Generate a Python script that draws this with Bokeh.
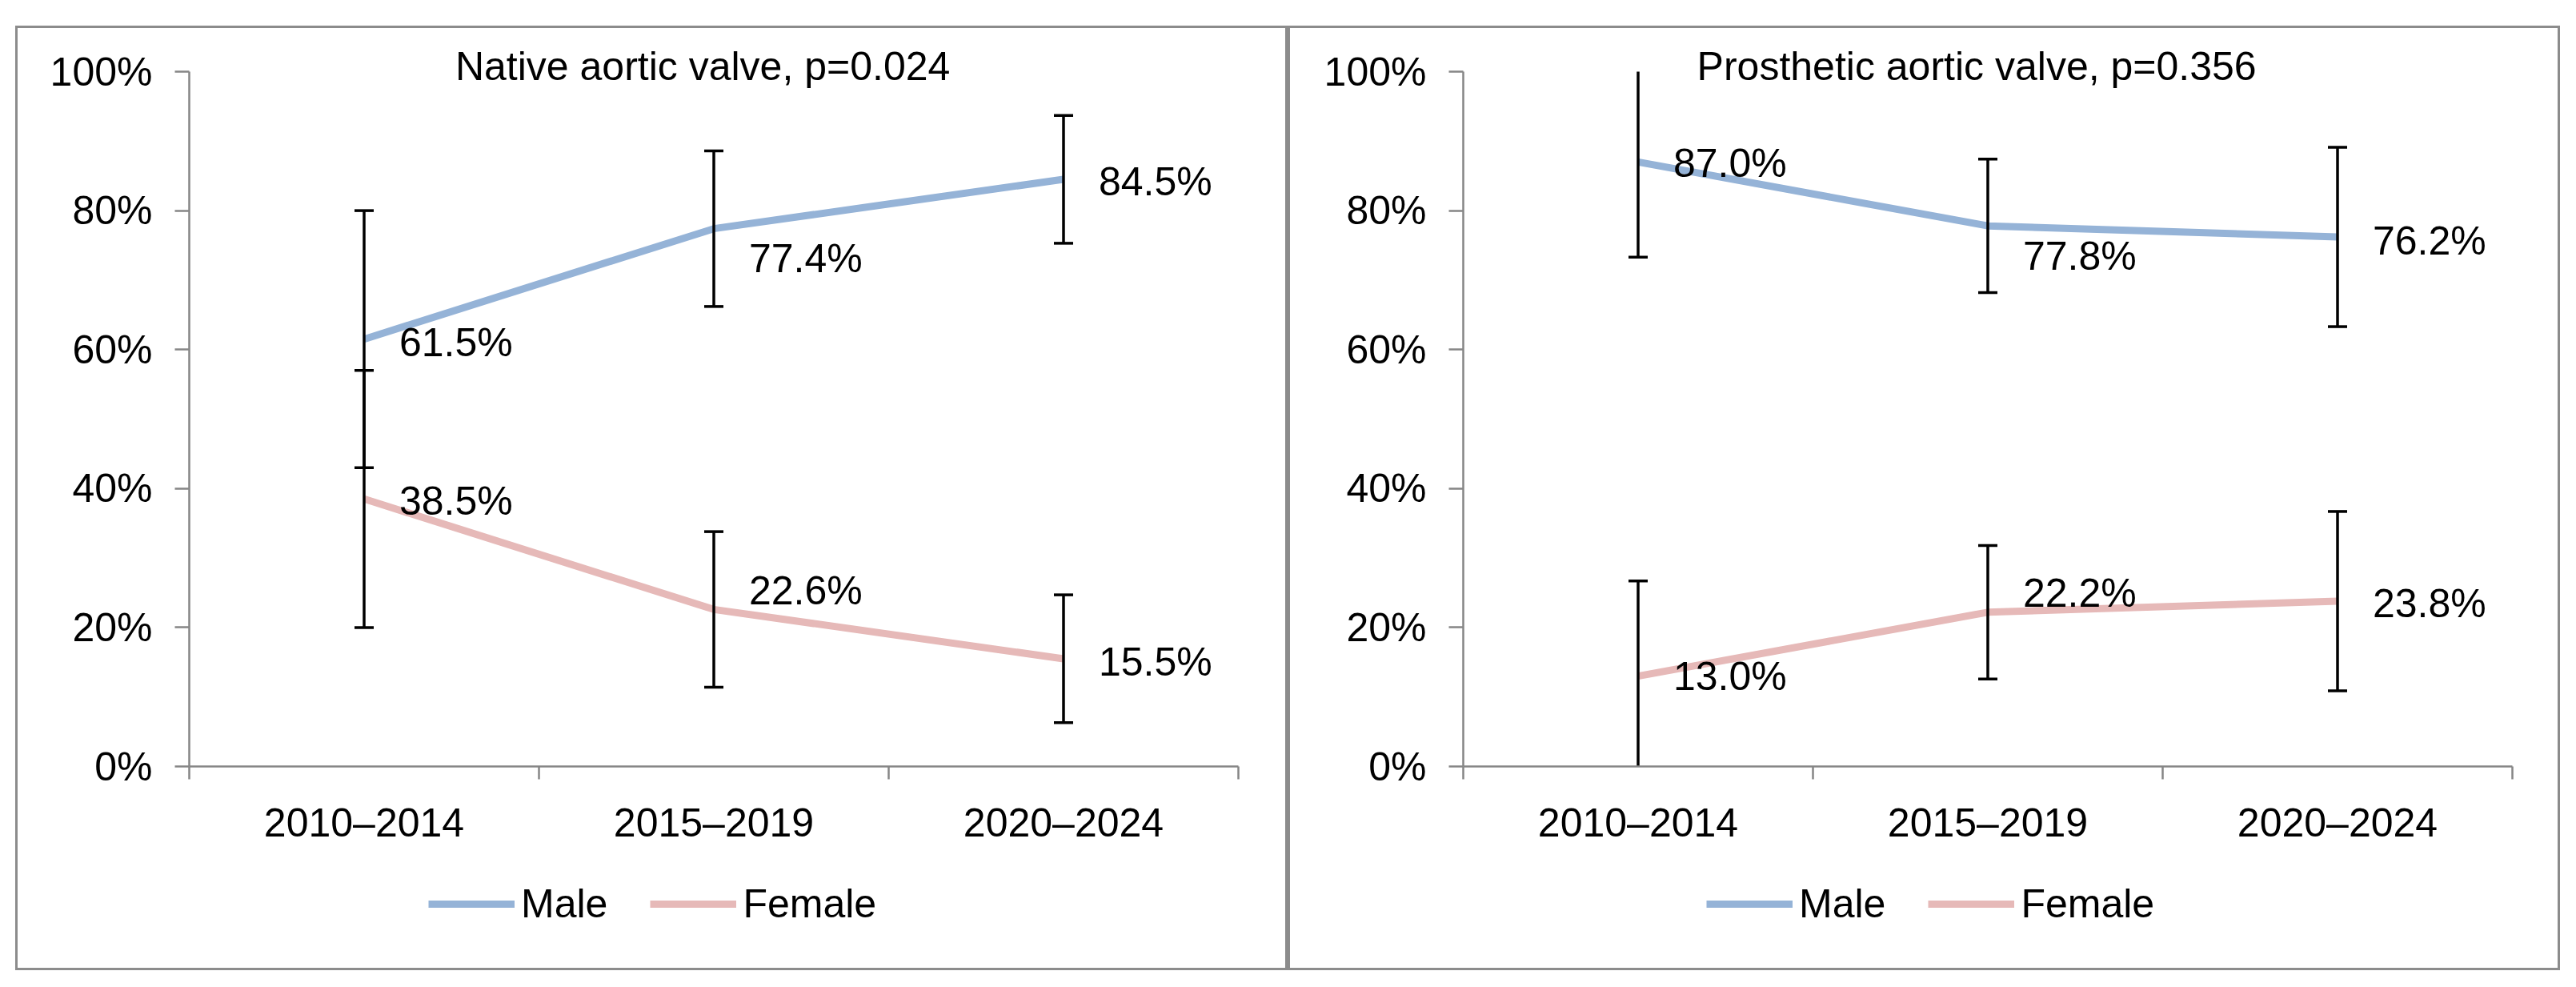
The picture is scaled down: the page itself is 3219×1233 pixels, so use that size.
from bokeh.plotting import figure
from bokeh.models import (Range1d, FixedTicker, Legend, LegendItem, Spacer)
from bokeh.layouts import row, column
from bokeh.core.properties import value
from bokeh.embed import file_html
from bokeh.resources import INLINE

# ---------------- data ----------------
categories = ["2010\u20132014", "2015\u20132019", "2020\u20132024"]

native_title = "Native  aortic valve,  p=0.024"
native_male = [61.5, 77.4, 84.5]
native_female = [38.5, 22.6, 15.5]
native_err = [18.5, 11.2, 9.2]          # half-width of error bars (%)

prosth_title = "Prosthetic  aortic valve,  p=0.356"
prosth_male = [87.0, 77.8, 76.2]
prosth_female = [13.0, 22.2, 23.8]
prosth_err = [13.7, 9.6, 12.9]

series_names = ["Male", "Female"]
y_ticks = [0, 20, 40, 60, 80, 100]

# ---------------- style ----------------
MALE_C = "#95B3D7"
FEMALE_C = "#E6B9B8"
AXIS_C = "#868686"
BORDER_C = "#8c8c8c"
FONT = "Liberation Sans"
FONT_V = value(FONT)
FS = "50px"
PANEL_W = 1590
PANEL_H = 1180
PLOT_H = 1065
TOP_CSS = [":host { box-shadow: inset 3px 0 0 0 %s, inset -3px 0 0 0 %s, "
           "inset 0 3px 0 0 %s; }" % (BORDER_C, BORDER_C, BORDER_C)]
BOT_CSS = [":host { box-shadow: inset 3px 0 0 0 %s, inset -3px 0 0 0 %s, "
           "inset 0 -3px 0 0 %s; }" % (BORDER_C, BORDER_C, BORDER_C)]

# label pixel shifts (screen, + = down)
native_male_dy = [4, 37, 3]
native_female_dy = [3, -23, 4]
prosth_male_dy = [2, 38, 5]
prosth_female_dy = [0, -24, 3]


def panel(title, male, female, err, mdy, fdy, left_border, legend_x):
    p = figure(width=PANEL_W, height=PLOT_H, output_backend="svg",
               toolbar_location=None, x_range=Range1d(0, len(categories)),
               y_range=Range1d(0, 100),
               min_border_left=left_border,
               min_border_right=PANEL_W - left_border - 1311,
               min_border_top=57, min_border_bottom=PLOT_H - 57 - 868)
    p.stylesheets = TOP_CSS
    p.outline_line_color = None
    p.grid.visible = False
    p.background_fill_alpha = 0
    p.border_fill_alpha = 0

    # title (overlapping the top of the plot area as in the reference)
    p.title.text = title
    p.title.align = "center"
    p.title.vertical_align = "bottom"
    p.title.standoff = -42
    p.title.text_font = FONT
    p.title.text_font_size = FS
    p.title.text_font_style = "normal"
    p.title.text_color = "black"

    xs = [i + 0.5 for i in range(len(categories))]

    # axes
    xa = p.xaxis[0]
    xa.ticker = FixedTicker(ticks=xs, minor_ticks=list(range(len(categories) + 1)))
    xa.major_label_overrides = {x: c for x, c in zip(xs, categories)}
    xa.major_tick_out = 0
    xa.major_tick_in = 0
    xa.minor_tick_out = 16
    xa.minor_tick_in = 0
    xa.minor_tick_line_color = AXIS_C
    xa.minor_tick_line_width = 2.5
    xa.axis_line_color = AXIS_C
    xa.axis_line_width = 2.5
    xa.major_label_standoff = 26
    xa.major_label_text_font = FONT
    xa.major_label_text_font_size = FS
    xa.major_label_text_color = "black"

    ya = p.yaxis[0]
    ya.ticker = FixedTicker(ticks=y_ticks)
    ya.major_label_overrides = {t: f"{t}%" for t in y_ticks}
    ya.major_tick_out = 18
    ya.major_tick_in = 0
    ya.minor_tick_line_color = None
    ya.major_tick_line_color = AXIS_C
    ya.major_tick_line_width = 2.5
    ya.axis_line_color = AXIS_C
    ya.axis_line_width = 2.5
    ya.major_label_standoff = 28
    ya.major_label_text_font = FONT
    ya.major_label_text_font_size = FS
    ya.major_label_text_color = "black"

    # lines
    p.line(xs, male, line_color=MALE_C, line_width=9)
    p.line(xs, female, line_color=FEMALE_C, line_width=9)

    # error bars
    for vals in (male, female):
        lo = [v - e for v, e in zip(vals, err)]
        hi = [v + e for v, e in zip(vals, err)]
        p.segment(x0=xs, y0=lo, x1=xs, y1=hi, line_color="black", line_width=3.5)
        p.scatter(x=xs + xs, y=lo + hi, marker="dash", size=24,
                  line_color="black", line_width=3.5)

    # data labels
    for vals, dy in ((male, mdy), (female, fdy)):
        p.text(x=xs, y=vals, text=[f"{v:.1f}%" for v in vals],
               x_offset=44, y_offset=dy, text_align="left",
               text_baseline="middle", text_font=FONT_V,
               text_font_size=FS, text_color="black")

    # legend strip below the chart (same panel); proxy lines carry the same
    # series but fall outside this strip's ranges, so only the legend shows
    leg_h = PANEL_H - PLOT_H
    pl = figure(width=PANEL_W, height=leg_h, output_backend="svg",
                toolbar_location=None, x_range=Range1d(-2, -1), y_range=Range1d(-2, -1),
                x_axis_type=None, y_axis_type=None, min_border=0)
    pl.stylesheets = BOT_CSS
    pl.outline_line_color = None
    pl.grid.visible = False
    pl.background_fill_alpha = 0
    pl.border_fill_alpha = 0
    lm = pl.line(xs, male, line_color=MALE_C, line_width=9)
    lf = pl.line(xs, female, line_color=FEMALE_C, line_width=9)
    legend = Legend(items=[LegendItem(label=series_names[0], renderers=[lm]),
                           LegendItem(label=series_names[1], renderers=[lf])],
                    orientation="horizontal", location=(legend_x, leg_h - 61),
                    glyph_width=108, glyph_height=20, label_standoff=8,
                    spacing=53, padding=0, margin=0,
                    border_line_color=None, background_fill_alpha=0,
                    label_text_font=FONT, label_text_font_size=FS,
                    label_text_color="black")
    pl.add_layout(legend, "center")

    return column(p, pl, spacing=0)


c1 = panel(native_title, native_male, native_female, native_err,
           native_male_dy, native_female_dy, 217, 299)
c2 = panel(prosth_title, prosth_male, prosth_female, prosth_err,
           prosth_male_dy, prosth_female_dy, 219, 304)

layout = column(Spacer(height=32), row(Spacer(width=19), c1, c2, spacing=0), spacing=0)
open("out.html", "w").write(file_html(layout, INLINE))
